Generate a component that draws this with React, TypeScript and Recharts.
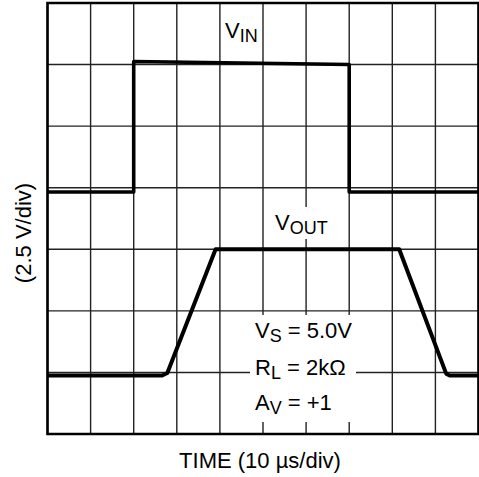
import React from 'react';
import { LineChart, Line, XAxis, YAxis, CartesianGrid, ReferenceArea, Customized } from 'recharts';

const timeTicks = [0, 1, 2, 3, 4, 5, 6, 7, 8, 9, 10];
const voltTicks = [0, 1, 2, 3, 4, 5, 6, 7];

const vinTime = [0, 2, 2, 7, 7, 10];
const vinLevel = [3.93, 3.93, 6.05, 6.0, 3.93, 3.93];

const voutTime = [0, 2.66, 2.78, 3.9, 8.16, 9.25, 9.33, 10];
const voutLevel = [0.95, 0.95, 0.99, 3.0, 3.0, 0.98, 0.95, 0.95];

const vinData = vinTime.map((t, i) => ({ t, v: vinLevel[i] }));
const voutData = voutTime.map((t, i) => ({ t, v: voutLevel[i] }));

const FONT = '"Liberation Sans", Arial, Helvetica, sans-serif';

const Labels = () => (
  <g fontFamily={FONT} fill="#000">
    <rect x={270} y={207} width={65} height={32} fill="#fff" />
    <rect x={250} y={315} width={106} height={107} fill="#fff" />
    <text x={225} y={38} fontSize={22}>
      V<tspan fontSize={18} dy={4}>IN</tspan>
    </text>
    <text x={275} y={230} fontSize={22}>
      V<tspan fontSize={18} dy={4}>OUT</tspan>
    </text>
    <text x={255} y={338} fontSize={22}>
      V<tspan fontSize={18} dy={4}>S</tspan>
      <tspan dy={-4}> = 5.0V</tspan>
    </text>
    <text x={255} y={375} fontSize={22}>
      R<tspan fontSize={18} dy={4}>L</tspan>
      <tspan dy={-4}> = 2kΩ</tspan>
    </text>
    <text x={255} y={410} fontSize={22}>
      A<tspan fontSize={18} dy={4}>V</tspan>
      <tspan dy={-4}> = +1</tspan>
    </text>
    <text x={260} y={468} fontSize={22} textAnchor="middle">
      TIME (10 µs/div)
    </text>
    <text x={31} y={233} fontSize={22} textAnchor="middle" transform="rotate(-90, 31, 233)">
      (2.5 V/div)
    </text>
  </g>
);

export default function App() {
  return (
    <div style={{ position: 'absolute', left: 0, top: 0, background: '#fff' }}>
      <LineChart
        width={479}
        height={477}
        margin={{ top: 3, right: 0.5, bottom: 43, left: 47.5 }}
      >
        <XAxis type="number" dataKey="t" domain={[0, 10]} ticks={timeTicks} hide allowDuplicatedCategory={false} />
        <YAxis type="number" dataKey="v" domain={[0, 7]} ticks={voltTicks} hide />
        <CartesianGrid stroke="#222" strokeWidth={1.4} />
        <ReferenceArea x1={0} x2={10} y1={0} y2={7} fill="none" stroke="#000" strokeWidth={2.6} fillOpacity={0} ifOverflow="visible" />
        <Line data={vinData} dataKey="v" type="linear" stroke="#000" strokeWidth={3.6} dot={false} strokeLinejoin="round" isAnimationActive={false} />
        <Line data={voutData} dataKey="v" type="linear" stroke="#000" strokeWidth={4} dot={false} strokeLinejoin="round" isAnimationActive={false} />
        <Customized component={Labels} />
      </LineChart>
    </div>
  );
}
